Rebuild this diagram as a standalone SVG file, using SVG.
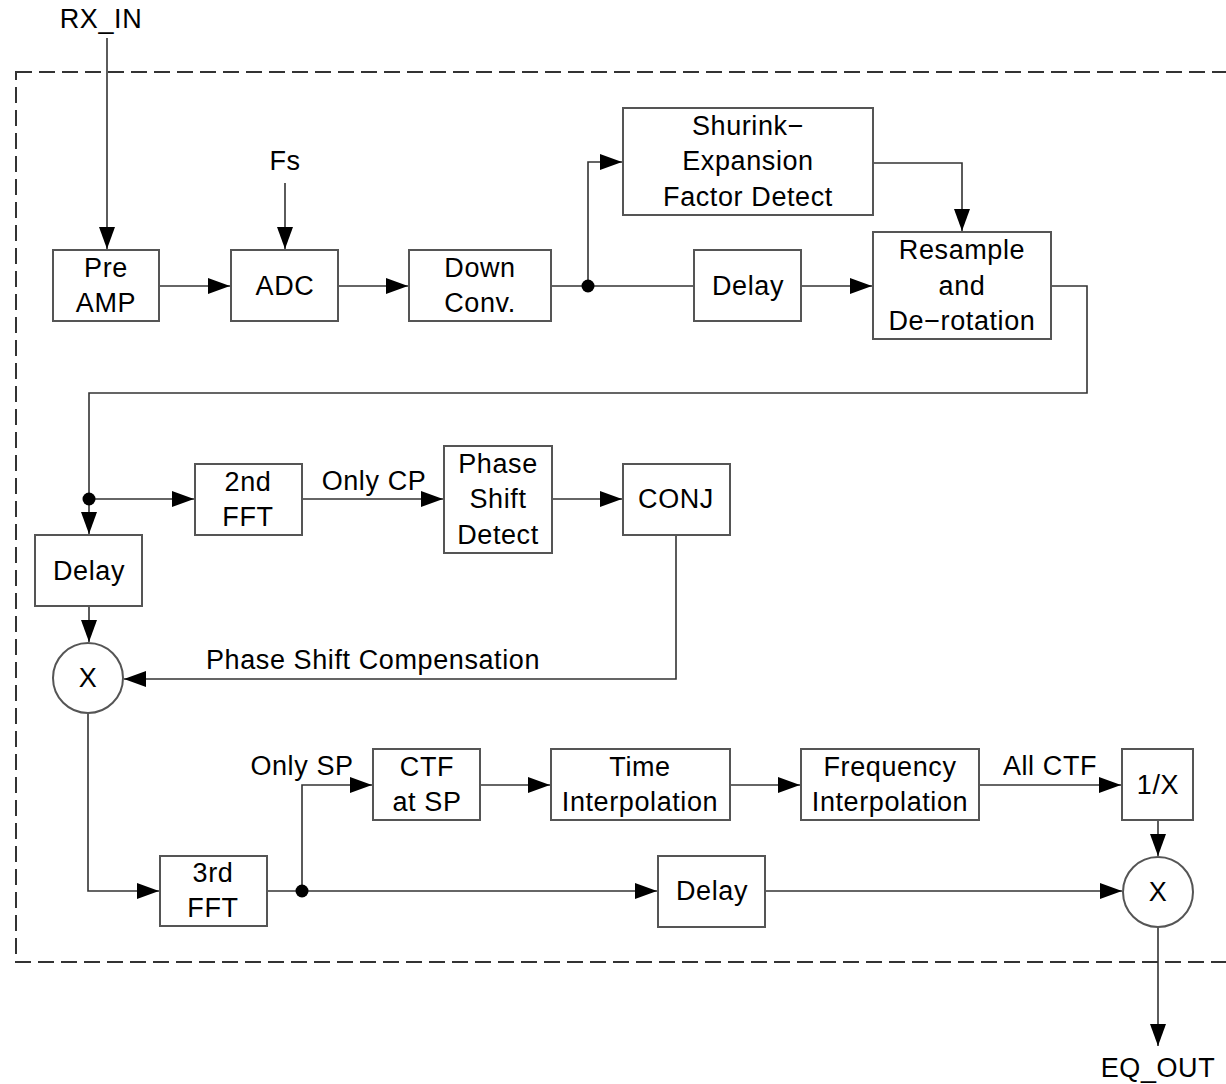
<svg xmlns="http://www.w3.org/2000/svg" width="1226" height="1084" viewBox="0 0 1226 1084">
<style>
.box{fill:#fff;stroke:#555;stroke-width:2}
.ln{fill:none;stroke:#333;stroke-width:1.6}
.dash{fill:none;stroke:#333;stroke-width:2;stroke-dasharray:16 7}
text{font-family:"Liberation Sans",Arial,sans-serif;font-size:27px;letter-spacing:0.6px;fill:#000;text-anchor:middle;dominant-baseline:central}
</style>
<defs>
<marker id="ah" markerUnits="userSpaceOnUse" markerWidth="22" markerHeight="16" refX="22" refY="8" orient="auto">
<path d="M0,0 L22,8 L0,16 z" fill="#000"/>
</marker>
</defs>
<rect class="dash" x="16" y="72" width="1230" height="890"/>
<g id="connectors">
<path class="ln" d="M107,38 V249" marker-end="url(#ah)"/>
<path class="ln" d="M285,183 V249" marker-end="url(#ah)"/>
<path class="ln" d="M160,286 H230" marker-end="url(#ah)"/>
<path class="ln" d="M338,286 H408" marker-end="url(#ah)"/>
<path class="ln" d="M551,286 H694"/>
<path class="ln" d="M588,286 V162 H622" marker-end="url(#ah)"/>
<path class="ln" d="M801,286 H872" marker-end="url(#ah)"/>
<path class="ln" d="M873,163 H962 V231" marker-end="url(#ah)"/>
<path class="ln" d="M1051,286 H1087 V393 H89 V534" marker-end="url(#ah)"/>
<path class="ln" d="M89,499 H194" marker-end="url(#ah)"/>
<path class="ln" d="M302,499 H443" marker-end="url(#ah)"/>
<path class="ln" d="M552,499 H622" marker-end="url(#ah)"/>
<path class="ln" d="M89,606 V642" marker-end="url(#ah)"/>
<path class="ln" d="M676,535 V679 H124" marker-end="url(#ah)"/>
<path class="ln" d="M88,713 V891 H159" marker-end="url(#ah)"/>
<path class="ln" d="M267,891 H657" marker-end="url(#ah)"/>
<path class="ln" d="M302,891 V785 H372" marker-end="url(#ah)"/>
<path class="ln" d="M480,785 H550" marker-end="url(#ah)"/>
<path class="ln" d="M730,785 H800" marker-end="url(#ah)"/>
<path class="ln" d="M979,785 H1121" marker-end="url(#ah)"/>
<path class="ln" d="M1158,820 V856" marker-end="url(#ah)"/>
<path class="ln" d="M765,891 H1122" marker-end="url(#ah)"/>
<path class="ln" d="M1158,927 V1046" marker-end="url(#ah)"/>
<circle cx="588" cy="286" r="6.5" fill="#000"/>
<circle cx="89" cy="499" r="6.5" fill="#000"/>
<circle cx="302" cy="891" r="6.5" fill="#000"/>
</g>
<g id="labels">
<text x="101" y="19">RX_IN</text>
<text x="285" y="161">Fs</text>
<text x="374" y="481">Only CP</text>
<text x="373" y="660">Phase Shift Compensation</text>
<text x="302" y="766">Only SP</text>
<text x="1050" y="766">All CTF</text>
<text x="1158" y="1068">EQ_OUT</text>
</g>
<g id="preamp"><rect class="box" x="53" y="250" width="106" height="71"/><text x="106" y="268">Pre</text><text x="106" y="303">AMP</text></g>
<g id="adc"><rect class="box" x="231" y="250" width="107" height="71"/><text x="285" y="286">ADC</text></g>
<g id="downconv"><rect class="box" x="409" y="250" width="142" height="71"/><text x="480" y="268">Down</text><text x="480" y="303">Conv.</text></g>
<g id="shurink"><rect class="box" x="623" y="108" width="250" height="107"/><text x="748" y="126">Shurink−</text><text x="748" y="161">Expansion</text><text x="748" y="197">Factor Detect</text></g>
<g id="delay1"><rect class="box" x="694" y="250" width="107" height="71"/><text x="748" y="286">Delay</text></g>
<g id="resample"><rect class="box" x="873" y="232" width="178" height="107"/><text x="962" y="250">Resample</text><text x="962" y="286">and</text><text x="962" y="321">De−rotation</text></g>
<g id="fft2"><rect class="box" x="195" y="464" width="107" height="71"/><text x="248" y="482">2nd</text><text x="248" y="517">FFT</text></g>
<g id="phaseshift"><rect class="box" x="444" y="446" width="108" height="107"/><text x="498" y="464">Phase</text><text x="498" y="499">Shift</text><text x="498" y="535">Detect</text></g>
<g id="conj"><rect class="box" x="623" y="464" width="107" height="71"/><text x="676" y="499">CONJ</text></g>
<g id="delay2"><rect class="box" x="35" y="535" width="107" height="71"/><text x="89" y="571">Delay</text></g>
<g id="mult1"><circle class="box" cx="88" cy="678" r="35"/><text x="88" y="678">X</text></g>
<g id="fft3"><rect class="box" x="160" y="856" width="107" height="70"/><text x="213" y="873">3rd</text><text x="213" y="908">FFT</text></g>
<g id="ctf"><rect class="box" x="373" y="749" width="107" height="71"/><text x="427" y="767">CTF</text><text x="427" y="802">at SP</text></g>
<g id="timeinterp"><rect class="box" x="551" y="749" width="179" height="71"/><text x="640" y="767">Time</text><text x="640" y="802">Interpolation</text></g>
<g id="freqinterp"><rect class="box" x="801" y="749" width="178" height="71"/><text x="890" y="767">Frequency</text><text x="890" y="802">Interpolation</text></g>
<g id="inv"><rect class="box" x="1122" y="749" width="71" height="71"/><text x="1158" y="785">1/X</text></g>
<g id="delay3"><rect class="box" x="658" y="856" width="107" height="71"/><text x="712" y="891">Delay</text></g>
<g id="mult2"><circle class="box" cx="1158" cy="892" r="35"/><text x="1158" y="892">X</text></g>
</svg>
